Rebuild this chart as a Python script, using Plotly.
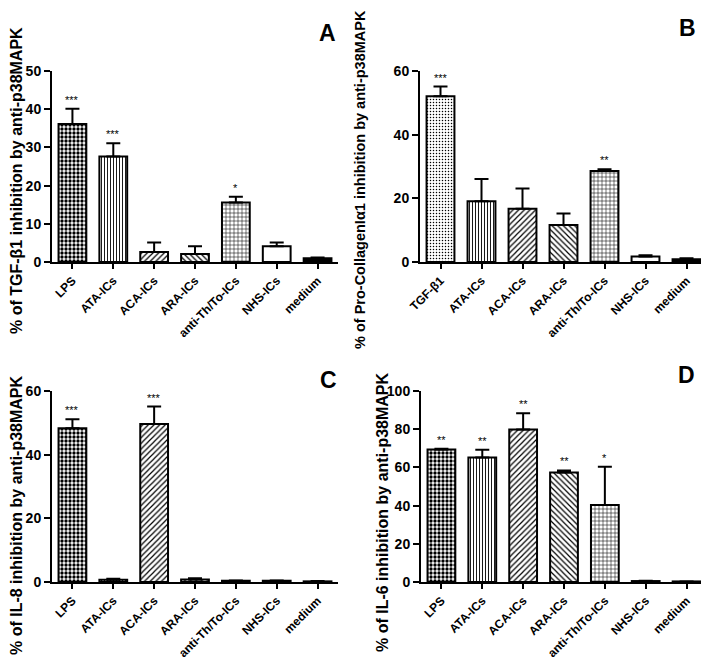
import plotly.graph_objects as go

cats_A = ["LPS", "ATA-ICs", "ACA-ICs", "ARA-ICs", "anti-Th/To-ICs", "NHS-ICs", "medium"]
cats_B = ["TGF-β1", "ATA-ICs", "ACA-ICs", "ARA-ICs", "anti-Th/To-ICs", "NHS-ICs", "medium"]
cats_C = cats_A
cats_D = cats_A

A_vals = [36.1, 27.6, 2.6, 2.1, 15.6, 4.1, 1.0]
A_err = [4.0, 3.5, 2.5, 2.0, 1.5, 1.0, 0.2]
A_stars = ["***", "***", "", "", "*", "", ""]

B_vals = [52.1, 19.1, 16.7, 11.6, 28.6, 1.7, 0.9]
B_err = [3.0, 7.0, 6.4, 3.6, 0.5, 0.4, 0.3]
B_stars = ["***", "", "", "", "**", "", ""]

C_vals = [48.3, 0.7, 49.6, 0.8, 0.4, 0.4, 0.2]
C_err = [2.8, 0.3, 5.5, 0.4, 0.1, 0.1, 0.1]
C_stars = ["***", "", "***", "", "", "", ""]

D_vals = [69.4, 65.2, 79.8, 57.3, 40.3, 0.5, 0.3]
D_err = [0.3, 4.0, 8.5, 1.1, 20.0, 0.1, 0.0]
D_stars = ["**", "**", "**", "**", "*", "", ""]

y_titles = ["% of TGF-β1 inhibition by anti-p38MAPK",
            "% of Pro-CollagenIα1 inhibition by anti-p38MAPK",
            "% of IL-8 inhibition by anti-p38MAPK",
            "% of IL-6 inhibition by anti-p38MAPK"]
panel_letters = ["A", "B", "C", "D"]

# window size and the page's default body margin
WIN_W, WIN_H = 709, 666
OFF = 8
W, H = WIN_W - OFF, WIN_H - OFF


def fx(px):
    return (px - OFF) / W


def fy(py):
    return 1 - (py - OFF) / H


# per-bar fill styles: (pattern shape, size, solidity, fill colour)
checker = (".", 4, 0.55, "white")
fine_dots = (".", 3, 0.2, "white")
vlines = ("|", 3, 0.3, "white")
fwd = ("/", 4, 0.3, "white")
back = ("\\", 4, 0.3, "white")
grid = ("+", 4, 0.25, "white")
empty = ("", 4, 0.3, "white")
solid = ("", 4, 0.3, "black")

panels = [
    dict(cats=cats_A, vals=A_vals, err=A_err, stars=A_stars, rng=[0, 50], dt=10,
         px=(52, 338), py=(71, 262), styles=[checker, vlines, fwd, back, grid, empty, solid],
         title_xy=(16, 181), title_size=16, letter_xy=(327, 33)),
    dict(cats=cats_B, vals=B_vals, err=B_err, stars=B_stars, rng=[0, 60], dt=20,
         px=(420, 707), py=(71, 262), styles=[fine_dots, vlines, fwd, back, grid, empty, solid],
         title_xy=(360, 180), title_size=14.5, letter_xy=(687, 28)),
    dict(cats=cats_C, vals=C_vals, err=C_err, stars=C_stars, rng=[0, 60], dt=20,
         px=(52, 338), py=(391, 582), styles=[checker, vlines, fwd, back, grid, empty, solid],
         title_xy=(16, 515), title_size=16, letter_xy=(328, 380)),
    dict(cats=cats_D, vals=D_vals, err=D_err, stars=D_stars, rng=[0, 100], dt=20,
         px=(421, 707), py=(391, 582), styles=[checker, vlines, fwd, back, grid, empty, solid],
         title_xy=(382, 512), title_size=16, letter_xy=(686, 375)),
]

fig = go.Figure()
annotations = []
FAM = "Arial, Liberation Sans, sans-serif"
bold = dict(family=FAM, color="black", weight="bold")

for i, p in enumerate(panels):
    n = i + 1
    xa = "x" if n == 1 else f"x{n}"
    ya = "y" if n == 1 else f"y{n}"
    for c, v, e, st in zip(p["cats"], p["vals"], p["err"], p["styles"]):
        shape, size, sol, col = st
        marker = dict(color=col, line=dict(color="black", width=2))
        if shape:
            marker["pattern"] = dict(shape=shape, size=size, solidity=sol,
                                     fgcolor="black", bgcolor="white",
                                     fillmode="replace")
        fig.add_trace(go.Bar(
            x=[c], y=[v], xaxis=xa, yaxis=ya, width=0.68, marker=marker,
            error_y=dict(type="data", symmetric=False, array=[e], arrayminus=[0],
                         color="black", thickness=2, width=7),
            showlegend=False,
        ))
    x0, x1 = p["px"]
    ytop, ybot = p["py"]
    fig.layout[f"xaxis{'' if n == 1 else n}"] = dict(
        domain=[fx(x0), fx(x1)], anchor=ya, type="category", automargin=False,
        categoryorder="array", categoryarray=p["cats"],
        range=[-0.5, 6.5], showline=True, linecolor="black", linewidth=2,
        ticks="outside", ticklen=5, tickwidth=2, tickcolor="black",
        tickangle=-45, tickfont=dict(size=12, **bold), showgrid=False, zeroline=False)
    fig.layout[f"yaxis{'' if n == 1 else n}"] = dict(
        domain=[fy(ybot), fy(ytop)], anchor=xa, automargin=False,
        range=p["rng"], dtick=p["dt"], showline=True, linecolor="black", linewidth=2,
        ticks="outside", ticklen=6, tickwidth=2, tickcolor="black",
        tickfont=dict(size=14, **bold), showgrid=False, zeroline=False)
    for c, v, e, s in zip(p["cats"], p["vals"], p["err"], p["stars"]):
        if s:
            annotations.append(dict(x=c, y=v + e, xref=xa, yref=ya, text=s,
                                    showarrow=False, yanchor="bottom", yshift=1,
                                    font=dict(size=11, color="black", family=FAM)))
    tx, ty = p["title_xy"]
    annotations.append(dict(x=fx(tx), y=fy(ty), xref="paper", yref="paper",
                            text=y_titles[i], textangle=-90, showarrow=False,
                            xanchor="center", yanchor="middle",
                            font=dict(size=p["title_size"], **bold)))
    lx, ly = p["letter_xy"]
    annotations.append(dict(x=fx(lx), y=fy(ly), xref="paper", yref="paper",
                            text=panel_letters[i], showarrow=False,
                            xanchor="center", yanchor="middle",
                            font=dict(size=23, **bold)))

fig.update_layout(width=W, height=H, margin=dict(l=0, r=0, t=0, b=0, autoexpand=False),
                  plot_bgcolor="white", paper_bgcolor="white",
                  barmode="overlay", annotations=annotations)

fig.write_html("out.html")
